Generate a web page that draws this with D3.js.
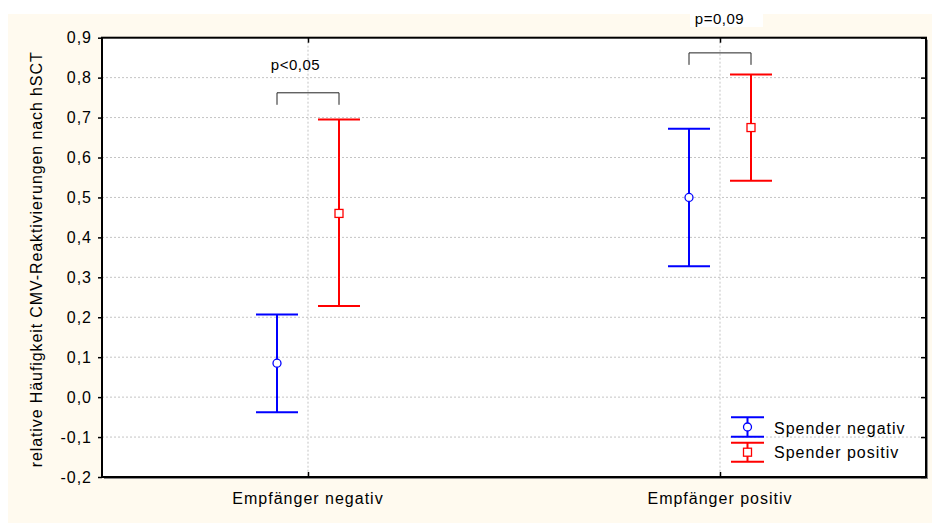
<!DOCTYPE html>
<html>
<head>
<meta charset="utf-8">
<script src="https://cdn.jsdelivr.net/npm/d3@7"></script>
<style>
  html, body { margin: 0; padding: 0; background: #ffffff; }
  svg { display: block; }
  text { font-family: "Liberation Sans", Arial, sans-serif; fill: #000; }
</style>
</head>
<body>
<svg id="chart" width="932" height="523"></svg>
<script>
// ---- data ----
const categories = ["Empfänger negativ", "Empfänger positiv"];
const seriesNames = ["Spender negativ", "Spender positiv"];
const seriesColors = ["#0000ff", "#ff0000"];
const meanNeg = [0.085, 0.500];
const lowNeg  = [-0.038, 0.328];
const highNeg = [0.207, 0.672];
const meanPos = [0.460, 0.675];
const lowPos  = [0.228, 0.542];
const highPos = [0.695, 0.808];
const yTicks = [-0.2, -0.1, 0.0, 0.1, 0.2, 0.3, 0.4, 0.5, 0.6, 0.7, 0.8, 0.9];
const pLabels = ["p<0,05", "p=0,09"];
const bracketTops = [0.762, 0.862];
const yLabel = "relative Häufigkeit CMV-Reaktivierungen nach hSCT";

// ---- layout ----
const svg = d3.select("#chart");
const W = 932, H = 523;
const plot = {left: 102, right: 926, top: 37.7, bottom: 477};

svg.append("rect").attr("x", 8).attr("y", 14).attr("width", W - 8).attr("height", H - 14)
  .attr("fill", "#fffaef");

const x = d3.scalePoint().domain(categories).range([plot.left, plot.right]).padding(0.5);
const off = d3.scalePoint().domain(seriesNames).range([-31, 31]);
const y = d3.scaleLinear().domain([-0.2, 0.9]).range([plot.bottom, plot.top]);

const loc = d3.formatLocale({decimal: ",", thousands: ".", grouping: [3], currency: ["", "€"], minus: "-"});
const fmt = loc.format(".1f");

// plot background + shadow
svg.append("rect").attr("x", plot.left + 2).attr("y", plot.top + 2)
  .attr("width", plot.right - plot.left).attr("height", plot.bottom - plot.top)
  .attr("fill", "#8a8a8a");
svg.append("rect").attr("x", plot.left).attr("y", plot.top)
  .attr("width", plot.right - plot.left).attr("height", plot.bottom - plot.top)
  .attr("fill", "#ffffff");

// gridlines
const grid = svg.append("g");
grid.selectAll("line.h").data(yTicks.slice(1, -1)).join("line")
  .attr("x1", plot.left).attr("x2", plot.right)
  .attr("y1", d => y(d)).attr("y2", d => y(d))
  .attr("stroke", "#c4c4c4").attr("stroke-width", 1).attr("stroke-dasharray", "2,2");
grid.selectAll("line.v").data(categories).join("line")
  .attr("x1", d => x(d)).attr("x2", d => x(d))
  .attr("y1", plot.top).attr("y2", plot.bottom)
  .attr("stroke", "#c4c4c4").attr("stroke-width", 1).attr("stroke-dasharray", "2,2");

// axes
const yAxisL = d3.axisLeft(y).tickValues(yTicks).tickFormat(fmt).tickSize(4).tickPadding(6);
const gL = svg.append("g").attr("transform", `translate(${plot.left},0)`).call(yAxisL);
gL.select(".domain").remove();
gL.selectAll(".tick line").attr("stroke", "#000").attr("stroke-width", 1.5);
gL.selectAll(".tick text").attr("font-size", 16).attr("letter-spacing", "1px")
  .style("font-family", "Liberation Sans, Arial, sans-serif");

const yAxisR = d3.axisLeft(y).tickValues(yTicks).tickFormat("").tickSize(5);
const gR = svg.append("g").attr("transform", `translate(${plot.right},0)`).call(yAxisR);
gR.select(".domain").remove();
gR.selectAll(".tick line").attr("stroke", "#000").attr("stroke-width", 1.5);

const xAxisB = d3.axisTop(x).tickFormat("").tickSize(5);
const gB = svg.append("g").attr("transform", `translate(0,${plot.bottom})`).call(xAxisB);
gB.select(".domain").remove();
gB.selectAll(".tick line").attr("stroke", "#000").attr("stroke-width", 1.5);

const xAxisT = d3.axisBottom(x).tickFormat("").tickSize(5);
const gT = svg.append("g").attr("transform", `translate(0,${plot.top})`).call(xAxisT);
gT.select(".domain").remove();
gT.selectAll(".tick line").attr("stroke", "#000").attr("stroke-width", 1.5);

// category labels
svg.append("g").selectAll("text").data(categories).join("text")
  .attr("x", d => x(d)).attr("y", 504)
  .attr("text-anchor", "middle").attr("font-size", 16).attr("letter-spacing", "1px")
  .text(d => d);

// y label
svg.append("text")
  .attr("transform", `translate(42,${(plot.top + plot.bottom) / 2 + 2}) rotate(-90)`)
  .attr("text-anchor", "middle").attr("font-size", 16).attr("letter-spacing", "0.9px")
  .text(yLabel);

// series
const series = [
  {name: seriesNames[0], color: seriesColors[0], mean: meanNeg, low: lowNeg, high: highNeg, shape: "circle"},
  {name: seriesNames[1], color: seriesColors[1], mean: meanPos, low: lowPos, high: highPos, shape: "square"}
];
const capHalf = 21;
series.forEach(s => {
  const g = svg.append("g");
  categories.forEach((c, i) => {
    const cx = x(c) + off(s.name);
    g.append("line").attr("x1", cx).attr("x2", cx).attr("y1", y(s.low[i])).attr("y2", y(s.high[i]))
      .attr("stroke", s.color).attr("stroke-width", 2);
    [s.low[i], s.high[i]].forEach(v => {
      g.append("line").attr("x1", cx - capHalf).attr("x2", cx + capHalf).attr("y1", y(v)).attr("y2", y(v))
        .attr("stroke", s.color).attr("stroke-width", 2);
    });
    if (s.shape === "circle") {
      g.append("circle").attr("cx", cx).attr("cy", y(s.mean[i])).attr("r", 4)
        .attr("fill", "#fff").attr("stroke", s.color).attr("stroke-width", 1.3);
    } else {
      g.append("rect").attr("x", cx - 4).attr("y", y(s.mean[i]) - 4).attr("width", 8).attr("height", 8)
        .attr("fill", "#fff").attr("stroke", s.color).attr("stroke-width", 1.3);
    }
  });
});

// frame
svg.append("rect").attr("x", plot.left).attr("y", plot.top)
  .attr("width", plot.right - plot.left).attr("height", plot.bottom - plot.top)
  .attr("fill", "none").attr("stroke", "#000").attr("stroke-width", 2);

// significance brackets
categories.forEach((c, i) => {
  const x1 = x(c) + off(seriesNames[0]);
  const x2 = x(c) + off(seriesNames[1]);
  const yt = y(bracketTops[i]);
  const yb = y(bracketTops[i] - 0.03);
  svg.append("path")
    .attr("d", `M${x1},${yb}V${yt}H${x2}V${yb}`)
    .attr("fill", "none").attr("stroke", "#222").attr("stroke-width", 1);
});
// white box behind second p label
svg.append("rect").attr("x", 690).attr("y", 14).attr("width", 73).attr("height", 13).attr("fill", "#fff");
const pPos = [{x: 295.5, y: 70}, {x: 719.5, y: 24}];
pLabels.forEach((p, i) => {
  svg.append("text").attr("x", pPos[i].x).attr("y", pPos[i].y)
    .attr("text-anchor", "middle").attr("font-size", 15).attr("letter-spacing", "0.5px")
    .text(p);
});

// legend
const legend = svg.append("g");
const legendRows = [
  {top: 417.3, bottom: 436.7, textY: 434},
  {top: 442.7, bottom: 461.7, textY: 458}
];
series.forEach((s, i) => {
  const r = legendRows[i];
  const lx = 747.5;
  const mid = (r.top + r.bottom) / 2;
  legend.append("line").attr("x1", lx).attr("x2", lx).attr("y1", r.top).attr("y2", r.bottom)
    .attr("stroke", s.color).attr("stroke-width", 2);
  [r.top, r.bottom].forEach(v => legend.append("line").attr("x1", 731).attr("x2", 764)
    .attr("y1", v).attr("y2", v).attr("stroke", s.color).attr("stroke-width", 2));
  if (s.shape === "circle") {
    legend.append("circle").attr("cx", lx).attr("cy", mid).attr("r", 4)
      .attr("fill", "#fff").attr("stroke", s.color).attr("stroke-width", 1.3);
  } else {
    legend.append("rect").attr("x", lx - 4).attr("y", mid - 4).attr("width", 8).attr("height", 8)
      .attr("fill", "#fff").attr("stroke", s.color).attr("stroke-width", 1.3);
  }
  legend.append("text").attr("x", 774).attr("y", r.textY)
    .attr("font-size", 16).attr("letter-spacing", "1px").text(s.name);
});
</script>
</body>
</html>
